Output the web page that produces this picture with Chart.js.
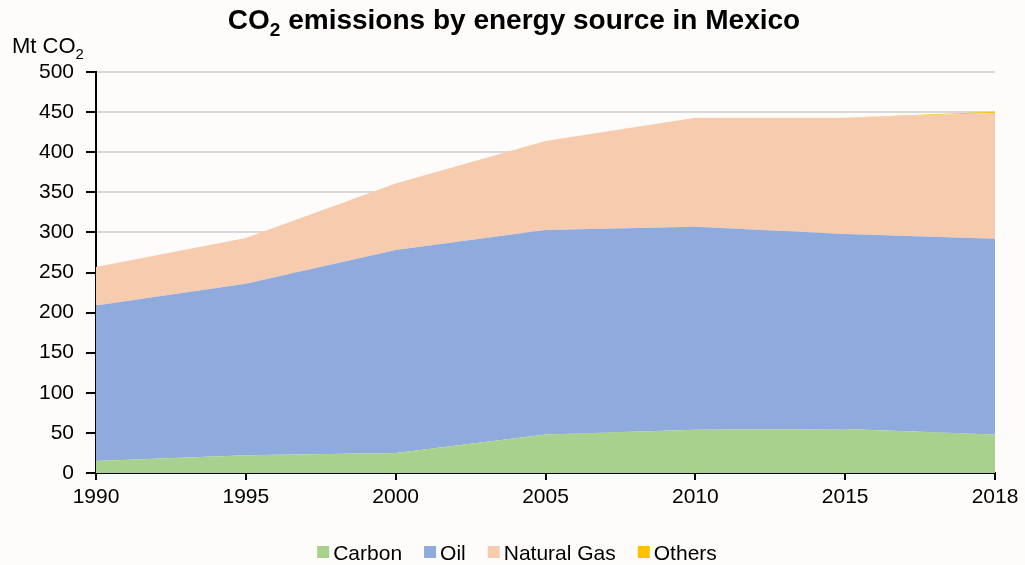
<!DOCTYPE html>
<html>
<head>
<meta charset="utf-8">
<script src="https://cdn.jsdelivr.net/npm/chart.js@4.4.1/dist/chart.umd.min.js"></script>
<style>
  html, body { margin: 0; padding: 0; background: #fdfcfa; }
  #wrap { width: 1025px; height: 565px; }
</style>
</head>
<body>
<div id="wrap"><canvas id="myChart"></canvas></div>
<script>
// Data (Mt CO2)
const years = ['1990', '1995', '2000', '2005', '2010', '2015', '2018'];
const carbon = [15, 22, 25, 48, 54, 55, 48];
const oil = [194, 214, 253, 255, 253, 243, 244];
const naturalGas = [48, 57, 83, 111, 136, 145, 157];
const others = [0, 0, 0, 0, 0, 0, 1.5];
const yTicks = [0, 50, 100, 150, 200, 250, 300, 350, 400, 450, 500];

const FONT = "'Liberation Sans', Arial, sans-serif";

// Draws text with a subscript "2" (CO2)
function drawSub(ctx, parts, x, y, size, bold, align) {
    const f = (s) => (bold ? 'bold ' : '') + s + 'px ' + FONT;
    let total = 0;
    parts.forEach(p => {
        ctx.font = f(p.sub ? size * 0.68 : size);
        total += ctx.measureText(p.t).width;
    });
    let cx = align === 'center' ? x - total / 2 : x;
    ctx.textAlign = 'left';
    ctx.textBaseline = 'alphabetic';
    parts.forEach(p => {
        ctx.font = f(p.sub ? size * 0.68 : size);
        ctx.fillText(p.t, cx, p.sub ? y + size * 0.25 : y);
        cx += ctx.measureText(p.t).width;
    });
}

const labelsPlugin = {
    id: 'labelsPlugin',
    afterDraw(chart) {
        const ctx = chart.ctx;
        ctx.save();
        ctx.fillStyle = '#000';
        drawSub(ctx, [{ t: 'CO' }, { t: '2', sub: true }, { t: ' emissions by energy source in Mexico' }],
            514, 29, 28, true, 'center');
        drawSub(ctx, [{ t: 'Mt CO' }, { t: '2', sub: true }], 12, 53, 22, false, 'left');

        // legend at the bottom, built from the datasets
        const size = 21, box = 12, gap = 4, spacing = 22;
        ctx.font = size + 'px ' + FONT;
        const items = chart.data.datasets.map(ds => ({
            text: ds.label, color: ds.backgroundColor, w: ctx.measureText(ds.label).width
        }));
        const total = items.reduce((s, it) => s + box + gap + it.w, 0) + spacing * (items.length - 1);
        let x = 517 - total / 2;
        const baseY = 560;
        ctx.textAlign = 'left';
        ctx.textBaseline = 'alphabetic';
        items.forEach(it => {
            ctx.fillStyle = it.color;
            ctx.fillRect(x, baseY - 14, box, box);
            ctx.fillStyle = '#000';
            ctx.fillText(it.text, x + box + gap, baseY);
            x += box + gap + it.w + spacing;
        });
        ctx.restore();
    }
};

const ctx = document.getElementById('myChart').getContext('2d');
const myChart = new Chart(ctx, {
    type: 'line',
    data: {
        labels: years,
        datasets: [
            { label: 'Carbon', data: carbon, backgroundColor: '#a9d18e', borderColor: '#a9d18e', fill: 'origin' },
            { label: 'Oil', data: oil, backgroundColor: '#8faadc', borderColor: '#8faadc', fill: '-1' },
            { label: 'Natural Gas', data: naturalGas, backgroundColor: '#f7cbad', borderColor: '#f7cbad', fill: '-1' },
            { label: 'Others', data: others, backgroundColor: '#ffc000', borderColor: '#ffc000', fill: '-1' }
        ]
    },
    options: {
        responsive: true,
        maintainAspectRatio: false,
        animation: false,
        elements: {
            point: { radius: 0 },
            line: { borderWidth: 0, tension: 0 }
        },
        layout: { padding: { top: 72, right: 30, left: 0, bottom: 40 } },
        plugins: {
            legend: { display: false },
            title: { display: false },
            tooltip: { enabled: false }
        },
        scales: {
            x: {
                offset: false,
                border: { color: '#000', width: 2 },
                grid: { display: true, drawOnChartArea: false, tickColor: '#000', tickLength: 7, lineWidth: 2 },
                ticks: { font: { family: FONT, size: 21 }, color: '#000', maxRotation: 0, padding: 5 },
                afterFit(scale) { scale.height = 52; }
            },
            y: {
                stacked: true,
                min: 0,
                max: 500,
                border: { color: '#000', width: 2 },
                grid: { color: '#d9d9d9', lineWidth: 2, tickColor: '#000', tickLength: 10 },
                afterBuildTicks(scale) { scale.ticks = yTicks.map(v => ({ value: v })); },
                ticks: { font: { family: FONT, size: 21 }, color: '#000', padding: 12 },
                afterFit(scale) { scale.width = 96; }
            }
        }
    },
    plugins: [labelsPlugin]
});
</script>
</body>
</html>
